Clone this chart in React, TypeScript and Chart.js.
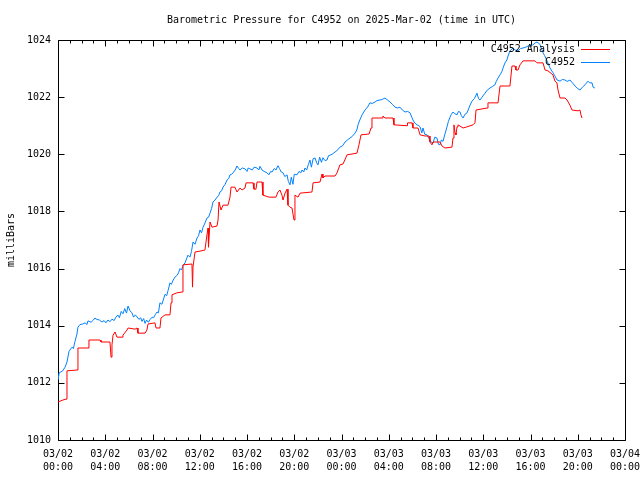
import React, { useEffect, useRef } from "react";
import { Chart, registerables } from "chart.js";

Chart.register(...registerables);

const chartTitle = "Barometric Pressure for C4952 on 2025-Mar-02 (time in UTC)";
const yAxisTitle = "milliBars";
const seriesNames = ["C4952 Analysis", "C4952"];
const seriesColors = ["#ff0000", "#0080ff"];

const xTickDates = ["03/02", "03/02", "03/02", "03/02", "03/02", "03/02", "03/03", "03/03", "03/03", "03/03", "03/03", "03/03", "03/04"];
const xTickTimes = ["00:00", "04:00", "08:00", "12:00", "16:00", "20:00", "00:00", "04:00", "08:00", "12:00", "16:00", "20:00", "00:00"];

// hours since 03/02 00:00 UTC
const analysisHours = [
  0, 0.42, 0.68, 0.76, 1.61, 1.69, 2.54, 2.62, 3.56, 3.64, 4.4, 4.49, 4.57, 4.66, 4.83, 4.99, 5.42, 5.5, 5.84, 5.93,
  6.52, 6.69, 6.77, 7.37, 7.53, 7.62, 8.21, 8.3, 8.63, 8.72, 9.06, 9.48, 9.57, 9.65, 10.07, 10.5, 10.58, 11.34, 11.39, 11.43,
  11.6, 12.02, 12.44, 12.61, 12.7, 12.74, 12.87, 13.04, 13.46, 13.55, 13.63, 13.8, 13.97, 14.39, 14.56, 14.65, 14.98, 15.15, 15.41, 15.58,
  15.83, 15.92, 16.51, 16.59, 16.76, 16.85, 17.27, 17.35, 17.86, 18.45, 18.62, 18.79, 18.96, 19.05, 19.22, 19.39, 19.47, 19.64, 19.81, 19.98,
  20.06, 20.32, 20.49, 21.5, 21.59, 22.18, 22.35, 22.43, 22.6, 23.45, 23.62, 23.87, 24.13, 24.47, 25.31, 25.48, 25.65, 26.33, 26.5, 26.58,
  27.43, 27.51, 27.68, 28.36, 28.44, 29.55, 29.59, 29.97, 30.05, 30.48, 30.65, 31.07, 31.41, 31.49, 31.66, 31.75, 32.34, 32.51, 32.76, 33.35,
  33.44, 33.52, 33.61, 33.69, 33.78, 33.86, 34.29, 34.62, 35.13, 35.3, 35.39, 36.32, 36.4, 37.25, 37.42, 38.26, 38.43, 38.69, 38.77, 38.94,
  39.11, 39.37, 40.38, 40.55, 41.06, 41.23, 41.48, 41.9, 42.07, 42.24, 42.33, 42.5, 42.92, 43.09, 43.34, 43.51, 44.02, 44.19, 44.27, 44.36
];
const analysisValues = [
  1011.33, 1011.4, 1011.43, 1012.42, 1012.45, 1013.22, 1013.22, 1013.5, 1013.5, 1013.43, 1013.43, 1012.9, 1013.33, 1013.67, 1013.78, 1013.6, 1013.6, 1013.67, 1013.85, 1013.92,
  1013.88, 1013.92, 1013.74, 1013.74, 1013.85, 1014.06, 1014.1, 1013.92, 1013.92, 1014.27, 1014.38, 1014.38, 1014.8, 1015.08, 1015.15, 1015.18, 1016.13, 1016.16, 1015.35, 1016.06,
  1016.58, 1016.61, 1016.65, 1017.18, 1017.42, 1016.75, 1017.63, 1017.45, 1017.49, 1017.7, 1018.33, 1018.05, 1018.22, 1018.22, 1018.5, 1018.85, 1018.85, 1018.68, 1018.82, 1018.75,
  1018.82, 1019.0, 1019.0, 1018.78, 1018.78, 1019.03, 1019.03, 1018.57, 1018.5, 1018.5, 1018.68, 1018.75, 1018.57, 1018.4, 1018.64, 1018.78, 1018.22, 1018.15, 1018.12, 1017.7,
  1018.57, 1018.5, 1018.64, 1018.68, 1019.0, 1019.03, 1019.31, 1019.17, 1019.24, 1019.24, 1019.35, 1019.63, 1019.66, 1019.98, 1020.04, 1020.33, 1020.68, 1020.71, 1020.92, 1021.27,
  1021.27, 1021.34, 1021.27, 1021.27, 1021.03, 1021.0, 1021.1, 1021.1, 1020.92, 1020.92, 1020.68, 1020.64, 1020.64, 1020.43, 1020.33, 1020.43, 1020.43, 1020.29, 1020.22, 1020.25,
  1020.57, 1021.03, 1020.75, 1020.68, 1020.96, 1021.03, 1020.92, 1020.96, 1021.03, 1021.1, 1021.55, 1021.62, 1021.8, 1021.8, 1022.39, 1022.39, 1023.09, 1023.09, 1022.95, 1022.95,
  1023.13, 1023.27, 1023.27, 1023.2, 1023.2, 1022.95, 1022.92, 1022.78, 1022.56, 1022.5, 1022.25, 1021.97, 1021.97, 1021.9, 1021.72, 1021.55, 1021.52, 1021.55, 1021.38, 1021.27
];

const stationHours = [
  0, 0.1, 0.4, 0.6, 0.76, 0.93, 1.1, 1.19, 1.3, 1.44, 1.6, 1.69, 1.86, 2.1, 2.29, 2.45, 2.54, 2.8, 3.0, 3.13,
  3.3, 3.5, 3.72, 3.9, 4.05, 4.23, 4.4, 4.57, 4.75, 4.9, 5.08, 5.2, 5.35, 5.5, 5.65, 5.8, 5.93, 6.1, 6.26, 6.4,
  6.55, 6.69, 6.85, 7.0, 7.11, 7.25, 7.37, 7.5, 7.65, 7.8, 7.96, 8.1, 8.25, 8.38, 8.5, 8.63, 8.8, 9.06, 9.2, 9.31,
  9.48, 9.6, 9.75, 9.9, 10.05, 10.2, 10.33, 10.45, 10.58, 10.75, 11.0, 11.17, 11.3, 11.43, 11.6, 11.77, 11.9, 12.02, 12.15, 12.28,
  12.45, 12.61, 12.75, 12.87, 13.0, 13.12, 13.3, 13.46, 13.6, 13.71, 13.85, 13.97, 14.15, 14.31, 14.45, 14.56, 14.7, 14.81, 15.0, 15.15,
  15.3, 15.41, 15.6, 15.83, 16.0, 16.1, 16.25, 16.45, 16.6, 16.85, 17.0, 17.1, 17.27, 17.45, 17.69, 17.85, 18.0, 18.12, 18.3, 18.45,
  18.62, 18.75, 18.9, 19.05, 19.2, 19.39, 19.5, 19.64, 19.75, 19.89, 20.0, 20.23, 20.4, 20.55, 20.66, 20.8, 20.91, 21.05, 21.2, 21.33,
  21.45, 21.6, 21.76, 21.9, 22.01, 22.15, 22.3, 22.43, 22.6, 22.77, 22.9, 23.03, 23.2, 23.45, 23.6, 23.87, 24.1, 24.3, 24.5, 24.72,
  24.9, 25.14, 25.3, 25.4, 25.55, 25.74, 25.99, 26.2, 26.41, 26.6, 26.84, 27.0, 27.26, 27.45, 27.68, 27.9, 28.11, 28.3, 28.53, 28.75,
  28.95, 29.15, 29.38, 29.6, 29.8, 29.95, 30.05, 30.2, 30.39, 30.55, 30.65, 30.8, 30.9, 31.05, 31.24, 31.4, 31.49, 31.6, 31.75, 31.9,
  32.08, 32.2, 32.34, 32.45, 32.59, 32.75, 32.93, 33.05, 33.19, 33.3, 33.44, 33.6, 33.78, 33.9, 34.03, 34.15, 34.29, 34.45, 34.63, 34.88,
  35.05, 35.25, 35.47, 35.6, 35.73, 35.9, 36.15, 36.35, 36.57, 36.8, 36.99, 37.1, 37.25, 37.45, 37.59, 37.7, 37.84, 38.0, 38.1, 38.26,
  38.52, 38.7, 38.94, 39.15, 39.37, 39.6, 39.79, 40.0, 40.21, 40.4, 40.55, 40.8, 41.06, 41.2, 41.4, 41.65, 41.91, 42.05, 42.25, 42.5,
  42.7, 42.92, 43.1, 43.34, 43.55, 43.77, 44.0, 44.19, 44.4, 44.61, 44.87, 45.0, 45.21, 45.3, 45.45
];
const stationValues = [
  1012.1, 1012.35, 1012.42, 1012.55, 1012.73, 1013.1, 1013.2, 1013.25, 1013.2, 1013.45, 1013.7, 1013.95, 1014.04, 1014.06, 1014.1, 1014.04, 1014.17, 1014.12, 1014.2, 1014.27,
  1014.22, 1014.2, 1014.13, 1014.18, 1014.1, 1014.2, 1014.14, 1014.23, 1014.18, 1014.3, 1014.37, 1014.28, 1014.5, 1014.42, 1014.6, 1014.44, 1014.69, 1014.52, 1014.45, 1014.3,
  1014.38, 1014.31, 1014.22, 1014.28, 1014.15, 1014.25, 1014.08, 1014.2, 1014.12, 1014.22, 1014.3, 1014.28, 1014.4, 1014.48, 1014.45, 1014.8, 1014.75, 1015.1, 1015.05, 1015.22,
  1015.5, 1015.45, 1015.6, 1015.7, 1015.75, 1015.85, 1016.0, 1015.95, 1016.1, 1016.2, 1016.47, 1016.4, 1016.6, 1016.93, 1016.85, 1017.07, 1017.15, 1017.35, 1017.25, 1017.45,
  1017.6, 1017.77, 1017.8, 1017.94, 1018.1, 1018.33, 1018.4, 1018.5, 1018.55, 1018.68, 1018.72, 1018.85, 1018.95, 1019.1, 1019.15, 1019.28, 1019.3, 1019.35, 1019.45, 1019.59,
  1019.5, 1019.45, 1019.52, 1019.49, 1019.4, 1019.52, 1019.49, 1019.45, 1019.55, 1019.52, 1019.45, 1019.58, 1019.45, 1019.4, 1019.35, 1019.28, 1019.4, 1019.38, 1019.5, 1019.45,
  1019.6, 1019.5, 1019.38, 1019.35, 1019.22, 1019.28, 1019.05, 1018.93, 1019.2, 1018.95, 1019.3, 1019.28, 1019.4, 1019.35, 1019.45, 1019.38, 1019.52, 1019.45, 1019.65, 1019.8,
  1019.55, 1019.85, 1019.87, 1019.7, 1019.63, 1019.9, 1019.72, 1019.88, 1019.78, 1019.8, 1019.95, 1019.97, 1020.0, 1020.08, 1020.12, 1020.25, 1020.3, 1020.43, 1020.5, 1020.57,
  1020.62, 1020.74, 1020.85, 1021.03, 1021.2, 1021.38, 1021.55, 1021.65, 1021.8, 1021.78, 1021.83, 1021.88, 1021.9, 1021.92, 1021.97, 1021.9, 1021.83, 1021.75, 1021.65, 1021.62,
  1021.65, 1021.55, 1021.48, 1021.5, 1021.45, 1021.3, 1021.2, 1021.1, 1021.03, 1021.0, 1020.96, 1020.75, 1020.92, 1020.7, 1020.68, 1020.55, 1020.5, 1020.42, 1020.4, 1020.6,
  1020.57, 1020.35, 1020.33, 1020.5, 1020.45, 1020.7, 1020.96, 1021.15, 1021.3, 1021.4, 1021.48, 1021.42, 1021.38, 1021.5, 1021.48, 1021.35, 1021.27, 1021.4, 1021.45, 1021.72,
  1021.86, 1021.95, 1022.14, 1021.95, 1021.9, 1022.0, 1022.14, 1022.25, 1022.32, 1022.38, 1022.43, 1022.55, 1022.67, 1022.8, 1022.91, 1023.05, 1023.2, 1023.3, 1023.44, 1023.62,
  1023.72, 1023.65, 1023.62, 1023.7, 1023.72, 1023.75, 1023.79, 1023.8, 1023.83, 1023.9, 1023.93, 1023.85, 1023.55, 1023.45, 1023.27, 1023.02, 1022.85, 1022.75, 1022.6, 1022.56,
  1022.62, 1022.6, 1022.55, 1022.6, 1022.5, 1022.39, 1022.3, 1022.25, 1022.35, 1022.43, 1022.56, 1022.5, 1022.5, 1022.35, 1022.32
];

const FONT = "DejaVu Sans Mono";

const framePlugin = {
  id: "gnuplotFrame",
  beforeDatasetsDraw(chart: any) {
    const { ctx, chartArea, scales } = chart;
    const { left, right, top, bottom } = chartArea;
    const xs = scales.x;
    const ys = scales.y;
    ctx.save();
    ctx.strokeStyle = "#000";
    ctx.lineWidth = 1;
    ctx.beginPath();
    const L = Math.round(left) + 0.5, R = Math.round(right) + 0.5, T = Math.round(top) + 0.5, B = Math.round(bottom) + 0.5;
    ctx.rect(L, T, R - L, B - T);
    for (let h = 0; h <= 48; h += 1) {
      const px = Math.round(xs.getPixelForValue(h)) + 0.5;
      const len = h % 4 === 0 ? 6 : 3;
      ctx.moveTo(px, B);
      ctx.lineTo(px, B - len);
      ctx.moveTo(px, T);
      ctx.lineTo(px, T + len);
    }
    for (let v = 1010; v <= 1024; v += 2) {
      const py = Math.round(ys.getPixelForValue(v)) + 0.5;
      ctx.moveTo(L, py);
      ctx.lineTo(L + 6, py);
      ctx.moveTo(R, py);
      ctx.lineTo(R - 6, py);
    }
    ctx.stroke();
    ctx.restore();
  },
  afterDatasetsDraw(chart: any) {
    const { ctx, chartArea } = chart;
    ctx.save();
    ctx.font = `10px "${FONT}"`;
    ctx.textAlign = "right";
    ctx.textBaseline = "middle";
    chart.data.datasets.forEach((ds: any, i: number) => {
      const y = Math.round(chartArea.top + 9 + 13 * i) + 0.5;
      ctx.fillStyle = "#000";
      ctx.fillText(ds.label, chartArea.right - 50, y);
      ctx.strokeStyle = ds.borderColor;
      ctx.lineWidth = 1;
      ctx.beginPath();
      ctx.moveTo(chartArea.right - 44, y);
      ctx.lineTo(chartArea.right - 15, y);
      ctx.stroke();
    });
    ctx.restore();
  },
};

export default function App() {
  const canvasRef = useRef<HTMLCanvasElement | null>(null);

  useEffect(() => {
    const canvas = canvasRef.current;
    if (!canvas) return;
    const toPoints = (xs: number[], ys: number[]) => xs.map((x, i) => ({ x, y: ys[i] }));
    const chart = new Chart(canvas, {
      type: "line",
      data: {
        datasets: [
          {
            label: seriesNames[0],
            data: toPoints(analysisHours, analysisValues),
            borderColor: seriesColors[0],
            backgroundColor: seriesColors[0],
            borderWidth: 1,
            pointRadius: 0,
            tension: 0,
            fill: false,
          },
          {
            label: seriesNames[1],
            data: toPoints(stationHours, stationValues),
            borderColor: seriesColors[1],
            backgroundColor: seriesColors[1],
            borderWidth: 1,
            pointRadius: 0,
            tension: 0,
            fill: false,
          },
        ],
      },
      options: {
        animation: false,
        responsive: false,
        maintainAspectRatio: false,
        devicePixelRatio: 1,
        layout: { padding: { left: 0, right: 15, top: 0, bottom: 0 } },
        plugins: {
          legend: { display: false },
          tooltip: { enabled: false },
          title: {
            display: true,
            text: chartTitle,
            fullSize: false,
            color: "#000",
            font: { family: FONT, size: 10, weight: "normal", lineHeight: 1.2 },
            padding: { top: 14, bottom: 14 },
          },
        },
        scales: {
          x: {
            type: "linear",
            min: 0,
            max: 48,
            grid: { display: false, drawTicks: false },
            border: { display: false },
            ticks: {
              stepSize: 4,
              autoSkip: false,
              maxRotation: 0,
              padding: 8,
              color: "#000",
              font: { family: FONT, size: 10, lineHeight: 1.3 },
              callback: (v: any) => {
                const i = Math.round(Number(v) / 4);
                return [xTickDates[i], xTickTimes[i]];
              },
            },
            afterFit: (s: any) => {
              s.height = 40;
              s.paddingLeft = 0;
              s.paddingRight = 0;
            },
          },
          y: {
            min: 1010,
            max: 1024,
            grid: { display: false, drawTicks: false },
            border: { display: false },
            ticks: {
              stepSize: 2,
              padding: 7,
              color: "#000",
              font: { family: FONT, size: 10 },
              callback: (v: any) => String(v),
            },
            title: {
              display: true,
              text: yAxisTitle,
              color: "#000",
              font: { family: FONT, size: 10, lineHeight: 1.2 },
              padding: { top: 5, bottom: 0 },
            },
            afterFit: (s: any) => {
              s.width = 58;
              s.paddingTop = 0;
              s.paddingBottom = 0;
            },
          },
        },
      },
      plugins: [framePlugin],
    } as any);
    return () => chart.destroy();
  }, []);

  return (
    <div style={{ position: "fixed", left: 0, top: 0, width: 640, height: 480, background: "#fff" }}>
      <canvas ref={canvasRef} width={640} height={480} style={{ display: "block", width: 640, height: 480 }} />
    </div>
  );
}
